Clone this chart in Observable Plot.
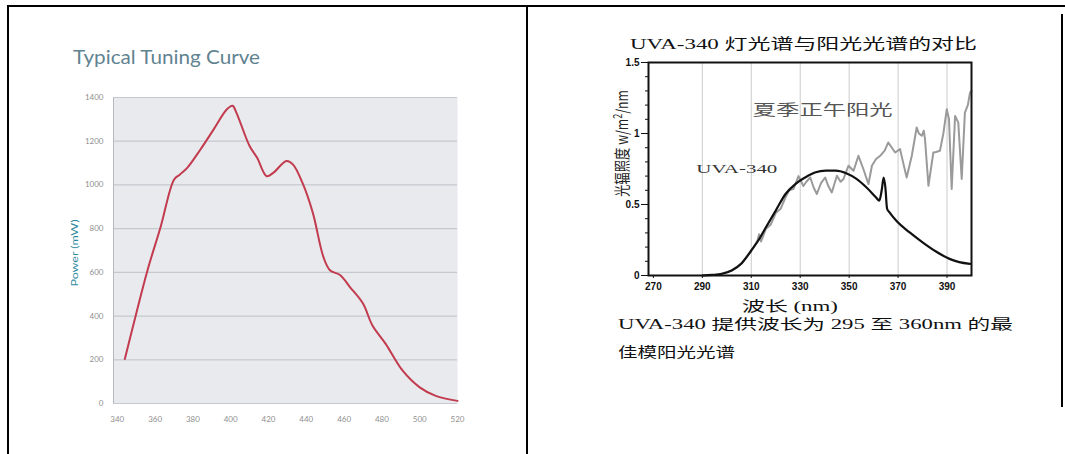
<!DOCTYPE html>
<html><head><meta charset="utf-8">
<script src="https://cdn.jsdelivr.net/npm/d3@7"></script>
<script src="https://cdn.jsdelivr.net/npm/@observablehq/plot@0.6"></script>
<style>
html,body{margin:0;padding:0;background:#fff;}
#page{position:relative;width:1065px;height:454px;overflow:hidden;background:#fff;}
.line{position:absolute;background:#000;}
#left{position:absolute;left:60px;top:85px;}
#right{position:absolute;left:595px;top:40px;}
#overlay{position:absolute;left:0;top:0;pointer-events:none;}
</style></head><body>
<div id="page">
 <div class="line" style="left:7px;top:5px;width:1058px;height:2px"></div>
 <div class="line" style="left:7px;top:5px;width:2px;height:449px"></div>
 <div class="line" style="left:526px;top:5px;width:2px;height:449px"></div>
 <div class="line" style="left:1061px;top:14px;width:2px;height:393px"></div>
 <div id="left"></div>
 <div id="right"></div>
 <svg id="overlay" width="1065" height="454">
  <text x="73" y="64" font-family="Lato" font-size="19" fill="#5f8391" textLength="187" lengthAdjust="spacingAndGlyphs">Typical Tuning Curve</text>
  <text transform="translate(78,253) rotate(-90)" text-anchor="middle" font-family="Lato" font-size="9" fill="#2f8a9c" textLength="67" lengthAdjust="spacingAndGlyphs">Power (mW)</text>
  <text x="630" y="49" font-family="Liberation Serif, Noto Sans CJK SC" font-size="15" fill="#111" textLength="347" lengthAdjust="spacingAndGlyphs">UVA-340 灯光谱与阳光光谱的对比</text>
  <text transform="translate(628,197) rotate(-90) scale(1,1.45)" font-family="Noto Sans CJK SC" font-size="11" fill="#222" textLength="107" lengthAdjust="spacingAndGlyphs">光辐照度 w/m<tspan dy="-4" font-size="8">2</tspan><tspan dy="4">/nm</tspan></text>
  <text x="742" y="311" font-family="Liberation Serif, Noto Sans CJK SC" font-size="14" fill="#111" textLength="96" lengthAdjust="spacingAndGlyphs">波长 (nm)</text>
  <text x="618" y="329" font-family="Liberation Serif, Noto Sans CJK SC" font-size="14" fill="#111" textLength="395" lengthAdjust="spacingAndGlyphs">UVA-340 提供波长为 295 至 360nm 的最</text>
  <text x="618" y="357" font-family="Liberation Serif, Noto Sans CJK SC" font-size="14" fill="#111" textLength="117" lengthAdjust="spacingAndGlyphs">佳模阳光光谱</text>
 </svg>
</div>
<script>
// ---- Left chart: Typical Tuning Curve ----
const tuneWavelength = [344,350,356,363,370,373,377,384,391,398,401,403,410,414,419,422.5,429.5,433,438,443.5,449,452.5,458,463,470,475,482,491,500,508.5,520];
const tunePower = [204,411,610,810,1024,1047,1078,1162,1254,1346,1362,1331,1178,1124,1040,1055,1109,1093,1009,871,672,610,587,534,457,357,273,150,74,35,12];
const tuneTicksX = [340,360,380,400,420,440,460,480,500,520];
const tuneTicksY = [0,200,400,600,800,1000,1200,1400];

// ---- Right chart: UVA-340 vs sunlight ----
const uvaWavelength = [290,294,298,302,306,310,313,316,320,324,328,332,336,340.5,344.5,348.8,353,357,361,362.3,363.3,364.1,364.8,365.5,366.5,369.2,374.6,380,385.5,391,395,399.4];
const uvaIrradiance = [0,0.004,0.012,0.035,0.085,0.176,0.25,0.34,0.457,0.574,0.644,0.69,0.725,0.738,0.738,0.72,0.68,0.621,0.55,0.527,0.6,0.69,0.62,0.47,0.445,0.387,0.305,0.234,0.169,0.117,0.094,0.082];
const sunWavelength = [298,302,306,309,311,312.5,313.2,314,316,318,320,322,324,325.5,327.3,329.3,331.3,332.5,334.1,335.5,336.8,338.5,340.2,341.5,342.9,345,346.5,347.7,349.7,351.8,353.8,355.8,357.9,359.3,361,362.7,364.5,366,368.8,370.8,372,373.5,375.6,377.6,378.5,379.7,380.5,381,382.4,384.4,385.5,387.1,388.5,389.9,390.8,391.9,393.3,394.6,396,397.3,398.5,399.4,400];
const sunIrradiance = [0.012,0.035,0.085,0.15,0.2,0.245,0.29,0.24,0.33,0.36,0.44,0.47,0.55,0.6,0.61,0.7,0.63,0.66,0.69,0.62,0.574,0.65,0.69,0.63,0.585,0.703,0.66,0.68,0.773,0.738,0.843,0.75,0.644,0.773,0.82,0.843,0.88,0.937,0.866,0.89,0.8,0.69,0.843,1.042,1.0,0.984,1.02,0.96,0.632,0.866,0.87,0.878,1.0,1.171,1.1,0.609,1.124,1.077,0.68,1.147,1.2,1.288,1.3];
const uvaTicksX = [270,290,310,330,350,370,390];
const uvaGridX = [290,310,330,350,370,390];
const uvaTicksY = [0,0.5,1,1.5];
const uvaMinorY = [0,0.1,0.2,0.3,0.4,0.5,0.6,0.7,0.8,0.9,1.0,1.1,1.2,1.3,1.4,1.5];
const noteLabels = ["夏季正午阳光","UVA-340"];
const noteWavelength = [339.2,304.1];
const noteIrradiance = [1.167,0.752];

// styles (kept apart from data)
const noteStyle = [
  {size: 15, width: 140, fill: "#555", font: "Noto Sans CJK SC"},
  {size: 13, width: 81, fill: "#333", font: "Liberation Serif"}
];

const tuneData = tuneWavelength.map((x, i) => ({x, y: tunePower[i]}));
const uvaData = uvaWavelength.map((x, i) => ({x, y: uvaIrradiance[i]}));
const sunData = sunWavelength.map((x, i) => ({x, y: sunIrradiance[i]}));
const notes = noteLabels.map((t, i) => ({t, x: noteWavelength[i], y: noteIrradiance[i], i}));

const left = Plot.plot({
  width: 407, height: 348,
  marginLeft: 53, marginRight: 10, marginTop: 12, marginBottom: 30,
  style: {fontFamily: "Lato, sans-serif", fontSize: "8px", color: "#8f8f8f", background: "transparent", overflow: "visible"},
  x: {domain: [338, 520], label: null},
  y: {domain: [0, 1400], label: null},
  marks: [
    Plot.frame({fill: "#e8eaee", stroke: null}),
    Plot.ruleY(tuneTicksY, {stroke: "#c5c9cf", strokeWidth: 1.2}),
    Plot.ruleX([338], {stroke: "#b5b9c0"}),
    Plot.line(tuneData, {x: "x", y: "y", stroke: "#c23b4e", strokeWidth: 2, curve: "catmull-rom"}),
    Plot.axisX(tuneTicksX, {tickSize: 0, tickPadding: 13, tickFormat: d => String(d), label: null}),
    Plot.axisY(tuneTicksY, {tickSize: 0, tickPadding: 10, tickFormat: d => String(d), label: null})
  ]
});
document.getElementById("left").append(left);

const right = Plot.plot({
  width: 391, height: 255,
  marginLeft: 53, marginRight: 15, marginTop: 22, marginBottom: 20,
  style: {fontFamily: "Liberation Sans, sans-serif", fontSize: "10px", fontWeight: "bold", color: "#111", background: "transparent", overflow: "visible"},
  x: {domain: [268, 400], label: null},
  y: {domain: [0, 1.5], label: null},
  marks: [
    Plot.ruleX(uvaGridX, {stroke: "#cccccc", strokeWidth: 1}),
    Plot.line(sunData, {x: "x", y: "y", stroke: "#9a9a9a", strokeWidth: 2}),
    Plot.line(uvaData, {x: "x", y: "y", stroke: "#111", strokeWidth: 2.2, curve: "monotone-x"}),
    Plot.text(notes, {x: "x", y: "y", text: "t", fontWeight: "normal", fill: d => noteStyle[d.i].fill, fontSize: d => noteStyle[d.i].size}),
    Plot.axisX(uvaTicksX, {tickSize: 3, tickPadding: 4, tickFormat: d => String(d), label: null}),
    Plot.axisY(uvaMinorY, {tickSize: 3, tickFormat: () => "", label: null}),
    Plot.axisY(uvaTicksY, {tickSize: 7, tickPadding: 2, tickFormat: d => String(d), label: null}),
    Plot.frame({stroke: "#111", strokeWidth: 2})
  ]
});
document.getElementById("right").append(right);

// size the annotation texts like the original
d3.select(right).selectAll('g[aria-label="text"] text').each(function(d, k) {
  const s = noteStyle[k];
  d3.select(this).attr("textLength", s.width).attr("lengthAdjust", "spacingAndGlyphs")
    .attr("font-family", s.font).attr("fill", s.fill).attr("font-size", s.size);
});
</script>
</body></html>
